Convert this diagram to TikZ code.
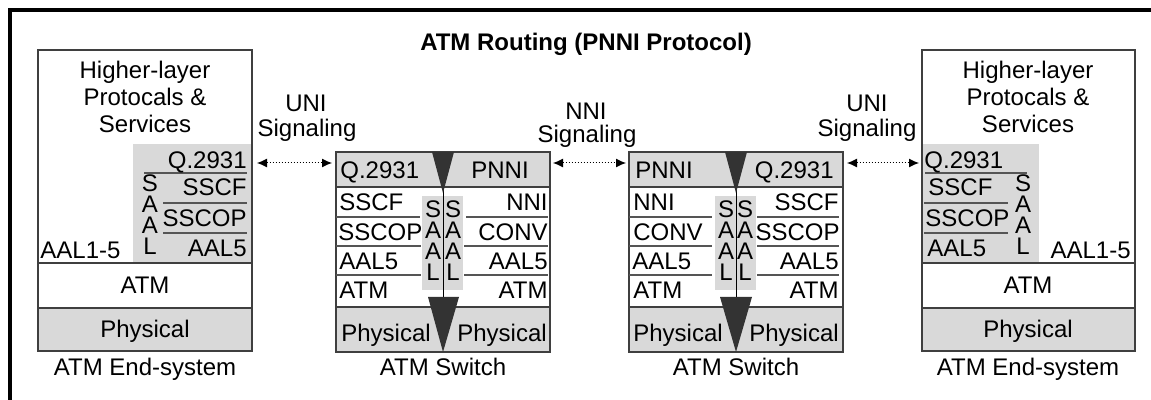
\documentclass[tikz,border=0pt]{standalone}
\usepackage{fontspec}
\setmainfont{Liberation Sans}
\usetikzlibrary{arrows.meta}
\definecolor{layerfill}{HTML}{D9D9D9}
\definecolor{boxedge}{HTML}{3F3F3F}
\definecolor{rulecol}{HTML}{555555}
\definecolor{funnelfill}{HTML}{333333}
\begin{document}
\begin{tikzpicture}[x=0.5pt,y=-0.5pt,
  txt/.style={inner sep=0pt, text height=8.6pt, text depth=0pt, font=\fontsize{12}{14}\selectfont},
  ttl/.style={txt, font=\fontsize{12}{14}\selectfont\bfseries},
  saal/.style={inner sep=0pt, align=center, font=\fontsize{12}{10.5}\selectfont},
  stackbox/.style={draw=boxedge, line width=0.8pt},
  layerrule/.style={draw=rulecol, line width=0.65pt},
  spine/.style={draw=black, line width=0.5pt},
  funnel/.style={fill=funnelfill},
  sig/.style={densely dotted, line width=0.5pt,
    {Latex[length=5pt,width=4.5pt]}-{Latex[length=5pt,width=4.5pt]}}]
\useasboundingbox (0,0) rectangle (1151,400);

% outer frame (runs off the right and bottom edges)
\draw[line width=1.75pt] (10,400) -- (10,10) -- (1151,10);

% title
\node[ttl] (title) at (586,42) {ATM Routing (PNNI Protocol)};

% ---------------- left end-system ----------------
\fill[layerfill] (133,144) rectangle (252,263);
\fill[layerfill] (38,308) rectangle (252,351);
\draw[stackbox] (38,50) rectangle (252,351);
\draw[stackbox] (38,263) -- (252,263) (38,308) -- (252,308);
\draw[layerrule] (144,173) -- (247,173) (163,203) -- (247,203) (163,233) -- (247,233);
\node[txt] (esa-h1) at (145,70) {Higher-layer};
\node[txt] (esa-h2) at (145,97) {Protocals \&};
\node[txt] (esa-h3) at (145,124) {Services};
\node[txt, anchor=east] (esa-q) at (247,160) {Q.2931};
\node[txt, anchor=east] (esa-sscf) at (247,187) {SSCF};
\node[txt, anchor=east] (esa-sscop) at (247,218) {SSCOP};
\node[txt, anchor=east] (esa-aal5) at (247,248) {AAL5};
\node[saal] (esa-saal) at (150,215) {S\\A\\A\\L};
\node[txt, anchor=west] (esa-aal) at (40,250) {AAL1-5};
\node[txt] (esa-atm) at (145,285) {ATM};
\node[txt] (esa-phy) at (145,329) {Physical};
\node[txt] (esa-name) at (145,367) {ATM End-system};

% ---------------- switch 1 ----------------
\fill[layerfill] (336,152) rectangle (550,187);
\fill[layerfill] (336,307) rectangle (550,352);
\fill[layerfill] (422,196) rectangle (463,290);
\draw[stackbox] (336,152) rectangle (550,352);
\draw[stackbox] (336,187) -- (550,187) (336,307) -- (550,307);
\draw[layerrule] (336,217) -- (420,217) (336,246) -- (421,246) (336,275) -- (421,275);
\draw[layerrule] (466,217) -- (548,217) (464,246) -- (548,246) (464,275) -- (548,275);
\draw[spine] (443,190) -- (443,300);
\fill[funnel] (432,152) -- (454,152) -- (443,193) -- cycle;
\fill[funnel] (428,297) -- (459,297) -- (443,352) -- cycle;
\node[txt, anchor=west] (swa-q) at (340,170) {Q.2931};
\node[txt] (swa-pnni) at (500,170) {PNNI};
\node[txt, anchor=west] (swa-l1) at (339,202) {SSCF};
\node[txt, anchor=west] (swa-l2) at (338,232) {SSCOP};
\node[txt, anchor=west] (swa-l3) at (339,261) {AAL5};
\node[txt, anchor=west] (swa-l4) at (339,290) {ATM};
\node[txt, anchor=east] (swa-r1) at (548,202) {NNI};
\node[txt, anchor=east] (swa-r2) at (548,232) {CONV};
\node[txt, anchor=east] (swa-r3) at (548,261) {AAL5};
\node[txt, anchor=east] (swa-r4) at (548,290) {ATM};
\node[saal] (swa-saal-l) at (433,241) {S\\A\\A\\L};
\node[saal] (swa-saal-r) at (453,241) {S\\A\\A\\L};
\node[txt] (swa-phl) at (386,333) {Physical};
\node[txt] (swa-phr) at (502,333) {Physical};
\node[txt] (swa-name) at (443,367) {ATM Switch};

% ---------------- switch 2 ----------------
\fill[layerfill] (629,152) rectangle (843,187);
\fill[layerfill] (629,307) rectangle (843,352);
\fill[layerfill] (715,196) rectangle (756,290);
\draw[stackbox] (629,152) rectangle (843,352);
\draw[stackbox] (629,187) -- (843,187) (629,307) -- (843,307);
\draw[layerrule] (629,217) -- (712,217) (629,246) -- (712,246) (629,275) -- (712,275);
\draw[layerrule] (757,217) -- (839,217) (757,246) -- (839,246) (757,275) -- (839,275);
\draw[spine] (736,190) -- (736,300);
\fill[funnel] (725,152) -- (747,152) -- (736,193) -- cycle;
\fill[funnel] (720,297) -- (752,297) -- (736,352) -- cycle;
\node[txt, anchor=west] (swb-pnni) at (635,170) {PNNI};
\node[txt, anchor=east] (swb-q) at (834,170) {Q.2931};
\node[txt, anchor=west] (swb-l1) at (633,202) {NNI};
\node[txt, anchor=west] (swb-l2) at (633,232) {CONV};
\node[txt, anchor=west] (swb-l3) at (632,261) {AAL5};
\node[txt, anchor=west] (swb-l4) at (633,290) {ATM};
\node[txt, anchor=east] (swb-r1) at (839,202) {SSCF};
\node[txt, anchor=east] (swb-r2) at (840,232) {SSCOP};
\node[txt, anchor=east] (swb-r3) at (839,261) {AAL5};
\node[txt, anchor=east] (swb-r4) at (839,290) {ATM};
\node[saal] (swb-saal-l) at (726,241) {S\\A\\A\\L};
\node[saal] (swb-saal-r) at (745,241) {S\\A\\A\\L};
\node[txt] (swb-phl) at (678,333) {Physical};
\node[txt] (swb-phr) at (794,333) {Physical};
\node[txt] (swb-name) at (736,367) {ATM Switch};

% ---------------- right end-system ----------------
\fill[layerfill] (922,144) rectangle (1039,263);
\fill[layerfill] (922,308) rectangle (1135,351);
\draw[stackbox] (922,50) rectangle (1135,351);
\draw[stackbox] (922,263) -- (1135,263) (922,308) -- (1135,308);
\draw[layerrule] (925,173) -- (1027,173) (924,203) -- (1008,203) (924,233) -- (1008,233);
\node[txt] (esb-h1) at (1028,70) {Higher-layer};
\node[txt] (esb-h2) at (1028,97) {Protocals \&};
\node[txt] (esb-h3) at (1028,124) {Services};
\node[txt, anchor=west] (esb-q) at (924,160) {Q.2931};
\node[txt, anchor=west] (esb-sscf) at (928,187) {SSCF};
\node[txt, anchor=west] (esb-sscop) at (925,218) {SSCOP};
\node[txt, anchor=west] (esb-aal5) at (927,248) {AAL5};
\node[saal] (esb-saal) at (1023,215) {S\\A\\A\\L};
\node[txt, anchor=east] (esb-aal) at (1131,250) {AAL1-5};
\node[txt] (esb-atm) at (1028,285) {ATM};
\node[txt] (esb-phy) at (1028,329) {Physical};
\node[txt] (esb-name) at (1028,367) {ATM End-system};

% ---------------- signaling labels and links ----------------
\node[txt] (uni1-a) at (306,103) {UNI};
\node[txt] (uni1-b) at (307,128) {Signaling};
\node[txt] (nni-a) at (586,111) {NNI};
\node[txt] (nni-b) at (587,134) {Signaling};
\node[txt] (uni2-a) at (867,103) {UNI};
\node[txt] (uni2-b) at (867,128) {Signaling};

\coordinate (uni1-l) at (257,163);
\coordinate (uni1-r) at (332,163);
\coordinate (nni-l) at (553,163);
\coordinate (nni-r) at (626,163);
\coordinate (uni2-l) at (847,163);
\coordinate (uni2-r) at (919,163);
\draw[sig] (uni1-l) -- (uni1-r);
\draw[sig] (nni-l) -- (nni-r);
\draw[sig] (uni2-l) -- (uni2-r);
\end{tikzpicture}
\end{document}
